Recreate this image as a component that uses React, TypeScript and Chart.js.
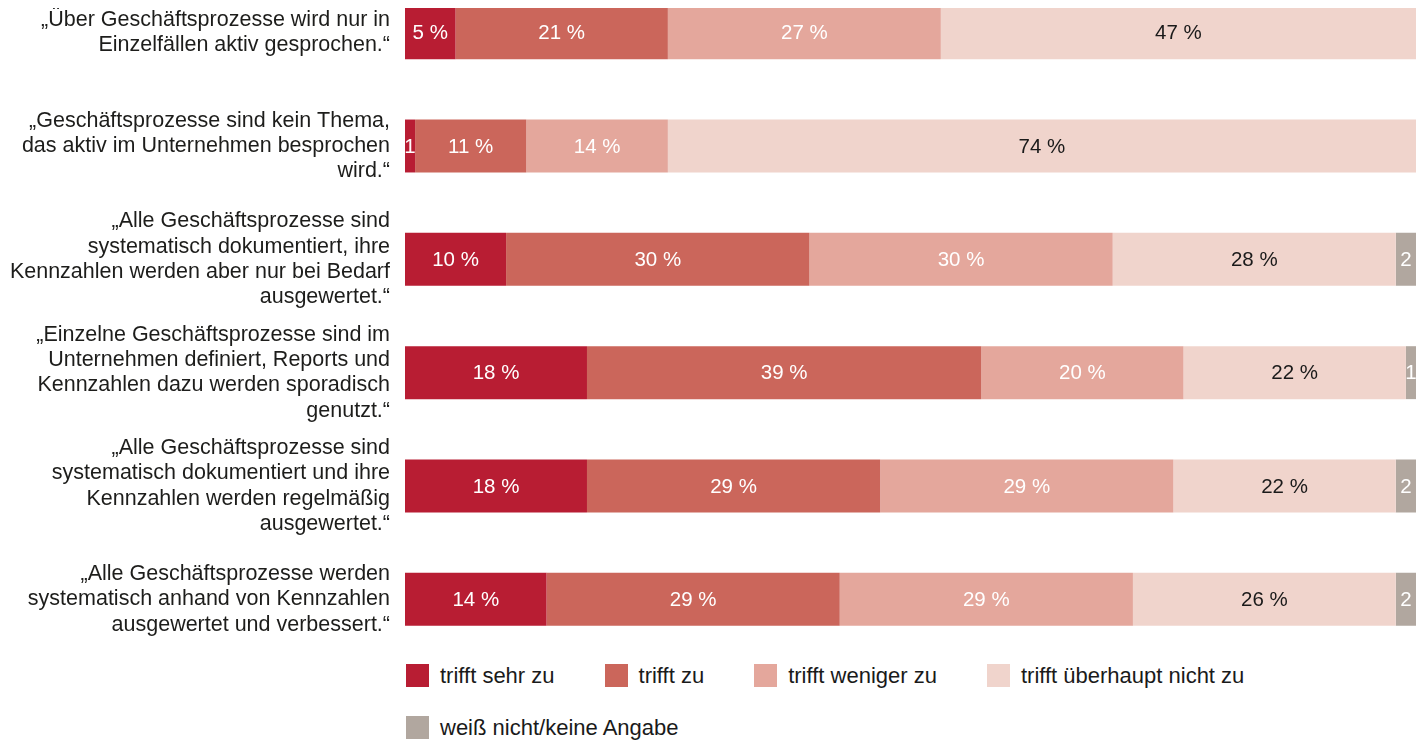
import React, { useEffect, useRef } from "react";
import { Chart, registerables } from "chart.js";

Chart.register(...registerables);

const FONT = '"Liberation Sans", Arial, Helvetica, sans-serif';

const categories: string[][] = [
  ["\u201EÜber Geschäftsprozesse wird nur in", "Einzelfällen aktiv gesprochen.\u201C"],
  ["\u201EGeschäftsprozesse sind kein Thema,", "das aktiv im Unternehmen besprochen", "wird.\u201C"],
  ["\u201EAlle Geschäftsprozesse sind", "systematisch dokumentiert, ihre", "Kennzahlen werden aber nur bei Bedarf", "ausgewertet.\u201C"],
  ["\u201EEinzelne Geschäftsprozesse sind im", "Unternehmen definiert, Reports und", "Kennzahlen dazu werden sporadisch", "genutzt.\u201C"],
  ["\u201EAlle Geschäftsprozesse sind", "systematisch dokumentiert und ihre", "Kennzahlen werden regelmäßig", "ausgewertet.\u201C"],
  ["\u201EAlle Geschäftsprozesse werden", "systematisch anhand von Kennzahlen", "ausgewertet und verbessert.\u201C"],
];

const seriesNames = [
  "trifft sehr zu",
  "trifft zu",
  "trifft weniger zu",
  "trifft überhaupt nicht zu",
  "weiß nicht/keine Angabe",
];

const trifftSehrZu = [5, 1, 10, 18, 18, 14];
const trifftZu = [21, 11, 30, 39, 29, 29];
const trifftWenigerZu = [27, 14, 30, 20, 29, 29];
const trifftNichtZu = [47, 74, 28, 22, 22, 26];
const keineAngabe = [0, 0, 2, 1, 2, 2];

const seriesValues = [trifftSehrZu, trifftZu, trifftWenigerZu, trifftNichtZu, keineAngabe];
const seriesColors = ["#B81D33", "#CB665B", "#E4A79C", "#F0D4CC", "#B1A79F"];
const labelColors = ["#ffffff", "#ffffff", "#ffffff", "#1a1a1a", "#ffffff"];

const barLabels = {
  id: "barLabels",
  afterDatasetsDraw(chart: any) {
    const { ctx } = chart;
    ctx.save();
    ctx.font = `20.5px ${FONT}`;
    ctx.textAlign = "center";
    ctx.textBaseline = "middle";
    chart.data.datasets.forEach((ds: any, di: number) => {
      const meta = chart.getDatasetMeta(di);
      meta.data.forEach((el: any, i: number) => {
        const v = ds.data[i];
        if (!v) return;
        const p = el.getCenterPoint();
        ctx.fillStyle = labelColors[di];
        ctx.fillText(v >= 3 ? `${v} %` : String(v), p.x, p.y + 1);
      });
    });
    ctx.restore();
  },
};

export default function App() {
  const canvasRef = useRef<HTMLCanvasElement | null>(null);

  useEffect(() => {
    if (!canvasRef.current) return;
    const chart = new Chart(canvasRef.current, {
      type: "bar",
      data: {
        labels: categories,
        datasets: seriesNames.map((name, i) => ({
          label: name,
          data: seriesValues[i],
          backgroundColor: seriesColors[i],
          borderWidth: 0,
          barPercentage: 0.467,
          categoryPercentage: 1,
        })),
      },
      options: {
        indexAxis: "y",
        animation: false,
        responsive: true,
        maintainAspectRatio: false,
        layout: { padding: 0, autoPadding: false },
        plugins: {
          legend: { display: false },
          tooltip: { enabled: false },
        },
        scales: {
          x: { display: false, stacked: true, min: 0, max: 100 },
          y: {
            stacked: true,
            grid: { display: false, drawTicks: false },
            border: { display: false },
            ticks: {
              padding: 15,
              color: "#1d1d1b",
              font: { size: 21.5, family: FONT, lineHeight: 1.18 },
            },
            afterFit(scale: any) {
              scale.width = 397;
              scale.paddingTop = 0;
              scale.paddingBottom = 0;
            },
          },
        },
      },
      plugins: [barLabels],
    } as any);
    return () => chart.destroy();
  }, []);

  return (
    <div style={{ position: "relative", top: -32, width: 1408 }}>
      <div style={{ position: "relative", width: 1408, height: 680 }}>
        <canvas ref={canvasRef} />
      </div>
      <div
        style={{
          marginTop: 8,
          paddingLeft: 398,
          display: "flex",
          flexWrap: "wrap",
          columnGap: 50,
          rowGap: 29,
          fontFamily: FONT,
          fontSize: 22,
          color: "#1a1a1a",
        }}
      >
        {seriesNames.map((name, i) => (
          <div key={name} style={{ display: "flex", alignItems: "center", height: 23 }}>
            <span
              style={{
                display: "inline-block",
                width: 23,
                height: 23,
                background: seriesColors[i],
                marginRight: 11,
              }}
            />
            <span>{name}</span>
          </div>
        ))}
      </div>
    </div>
  );
}
